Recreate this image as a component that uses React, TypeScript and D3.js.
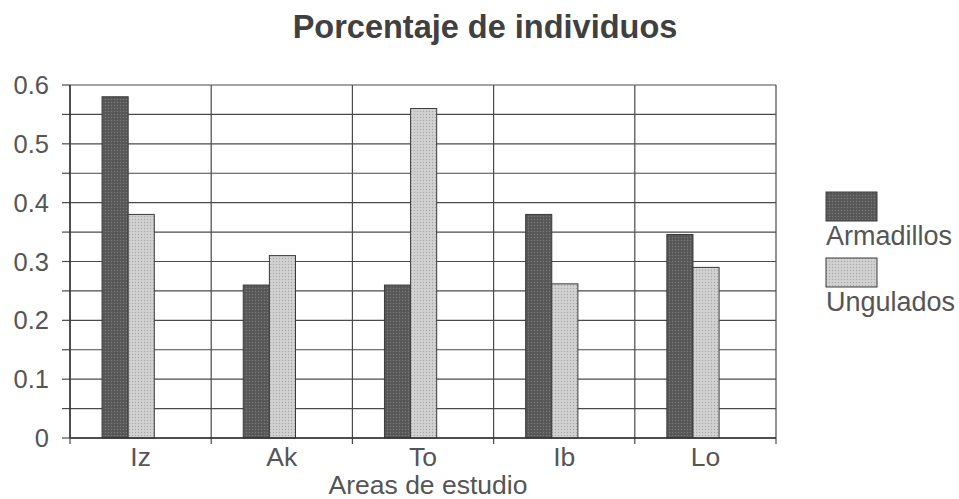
import React from "react";
import * as d3 from "d3";

const categories = ["Iz", "Ak", "To", "Ib", "Lo"];
const seriesNames = ["Armadillos", "Ungulados"];
const armadillos = [0.58, 0.26, 0.26, 0.38, 0.346];
const ungulados = [0.38, 0.31, 0.56, 0.262, 0.29];
const yTicks = [0, 0.1, 0.2, 0.3, 0.4, 0.5, 0.6];
const yGrid = d3.range(0, 13).map((i) => i * 0.05);

const W = 959;
const H = 499;
const left = 70;
const right = 776;
const top = 85;
const bottom = 438;

const fills = ["url(#pDark)", "url(#pLight)"];
const font = "'Liberation Sans', Arial, sans-serif";

export default function App() {
  const x = d3.scaleBand().domain(categories).range([left, right]).padding(0);
  const bw = x.bandwidth();
  const x1 = d3.scaleBand().domain(seriesNames).range([bw * 0.227, bw * 0.597]).padding(0);
  const y = d3.scaleLinear().domain([0, 0.6]).range([bottom, top]);
  const data = [armadillos, ungulados];

  return (
    <svg width={W} height={H} style={{ position: "absolute", left: 0, top: 0, background: "#fff" }}>
      <defs>
        <pattern id="pDark" width="3" height="3" patternUnits="userSpaceOnUse">
          <rect width="3" height="3" fill="#5c5c5c" />
          <rect width="1" height="1" fill="#7a7a7a" />
          <rect x="1.5" y="1.5" width="1" height="1" fill="#444" />
        </pattern>
        <pattern id="pLight" width="3" height="3" patternUnits="userSpaceOnUse">
          <rect width="3" height="3" fill="#cdcdcd" />
          <rect width="1" height="1" fill="#a8a8a8" />
          <rect x="1.5" y="1.5" width="1" height="1" fill="#e2e2e2" />
        </pattern>
      </defs>
      <text x={485} y={38} textAnchor="middle" fontFamily={font} fontWeight="bold" fontSize={32.5} fill="#404040">
        Porcentaje de individuos
      </text>
      {yGrid.map((v, i) => (
        <g key={"g" + i}>
          <line x1={left} x2={right} y1={y(v)} y2={y(v)} stroke="#4a4a4a" strokeWidth={1.2} />
          <line x1={left - 8} x2={left} y1={y(v)} y2={y(v)} stroke="#4a4a4a" strokeWidth={1.2} />
        </g>
      ))}
      {categories.map((c) => (
        <line key={"v" + c} x1={x(c)} x2={x(c)} y1={top} y2={bottom + 6} stroke="#4a4a4a" strokeWidth={1.2} />
      ))}
      <line x1={right} x2={right} y1={top} y2={bottom + 6} stroke="#4a4a4a" strokeWidth={1.2} />
      {categories.map((c, ci) =>
        seriesNames.map((s, si) => {
          const v = data[si][ci];
          return (
            <rect
              key={c + s}
              x={(x(c) as number) + (x1(s) as number)}
              y={y(v)}
              width={x1.bandwidth()}
              height={y(0) - y(v)}
              fill={fills[si]}
              stroke="#3a3a3a"
              strokeWidth={1}
            />
          );
        })
      )}
      <line x1={left} x2={left} y1={top} y2={bottom} stroke="#333" strokeWidth={1.4} />
      <line x1={left} x2={right} y1={bottom} y2={bottom} stroke="#333" strokeWidth={1.4} />
      {yTicks.map((v) => (
        <text key={"t" + v} x={49} y={y(v) + 9} textAnchor="end" fontFamily={font} fontSize={25.5} fill="#555">
          {v === 0 ? "0" : v.toFixed(1)}
        </text>
      ))}
      {categories.map((c) => (
        <text key={"l" + c} x={(x(c) as number) + bw / 2} y={466} textAnchor="middle" fontFamily={font} fontSize={26.5} fill="#555">
          {c}
        </text>
      ))}
      <text x={428} y={494} textAnchor="middle" fontFamily={font} fontSize={26.5} fill="#555">
        Areas de estudio
      </text>
      {seriesNames.map((s, i) => (
        <g key={"lg" + s} transform={`translate(826, ${192 + i * 66})`}>
          <rect x={0} y={0} width={51} height={29} fill={fills[i]} stroke="#3a3a3a" strokeWidth={1} />
          <text x={0} y={53} fontFamily={font} fontSize={27} fill="#555">
            {s}
          </text>
        </g>
      ))}
    </svg>
  );
}
